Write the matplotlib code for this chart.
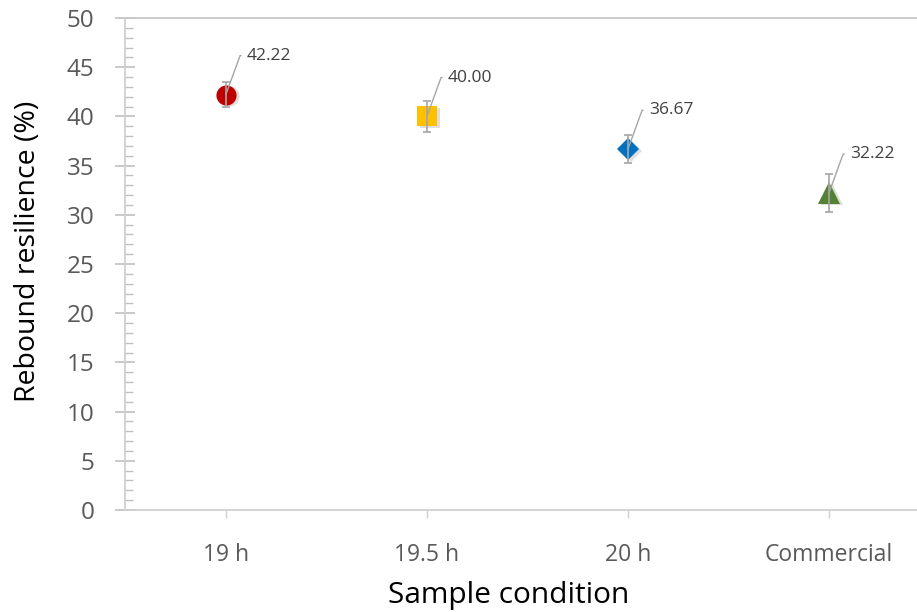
import matplotlib
matplotlib.use('Agg')
import matplotlib.pyplot as plt
import numpy as np

categories = ['19 h', '19.5 h', '20 h', 'Commercial']
values = [42.22, 40.00, 36.67, 32.22]
errors = [1.3, 1.6, 1.4, 1.9]
labels = ['42.22', '40.00', '36.67', '32.22']
colors = ['#C00000', '#FFC000', '#0070C0', '#548235']
markers = ['o', 's', 'D', '^']
sizes = [14.5, 15, 11.5, 16]

plt.rcParams['font.family'] = ['Open Sans', 'DejaVu Sans']

fig = plt.figure(figsize=(9.17, 6.12), dpi=100)
ax = fig.add_axes([125 / 917, 1 - 510 / 612, (917 - 125) / 917, (510 - 18) / 612])

x = np.arange(len(categories))
for i in range(len(categories)):
    # soft shadow to the lower right
    ax.plot(x[i] + 0.014, values[i] - 0.15, marker=markers[i], markersize=sizes[i],
            color='#000000', alpha=0.13, markeredgewidth=0, linestyle='none', zorder=2)
    ax.plot(x[i], values[i], marker=markers[i], markersize=sizes[i],
            color=colors[i], markeredgewidth=0, linestyle='none', zorder=3)
    ax.errorbar(x[i], values[i], yerr=errors[i], fmt='none', ecolor='#A6A6A6',
                elinewidth=1.2, capsize=3, capthick=1.2, zorder=4)
    ax.annotate(labels[i], xy=(x[i], values[i]), xytext=(15, 28),
                textcoords='offset points', fontsize=12.5, color='#404040',
                va='center', ha='left',
                arrowprops=dict(arrowstyle='-', color='#A6A6A6', lw=1,
                                shrinkA=2, shrinkB=0,
                                connectionstyle='angle,angleA=0,angleB=70,rad=0'),
                zorder=5)

ax.set_xlim(-0.502, 3.438)
ax.set_ylim(0, 50)
ax.set_xticks(x)
ax.set_xticklabels(categories)
ax.set_yticks(np.arange(0, 51, 5))
ax.set_yticks(np.arange(0, 51, 1), minor=True)

ax.spines['right'].set_visible(False)
for s in ['left', 'bottom', 'top']:
    ax.spines[s].set_color('#D0D0D0')
    ax.spines[s].set_linewidth(1.3)
ax.spines['top'].set_color('#C8C8C8')

ax.tick_params(axis='y', which='major', direction='inout', length=14, width=1.2,
               color='#C0C0C0', labelsize=17.5, labelcolor='#595959', pad=15)
ax.tick_params(axis='y', which='minor', direction='in', length=6, width=1,
               color='#C0C0C0')
ax.tick_params(axis='x', which='major', direction='out', length=6, width=1,
               color='#D0D0D0', labelsize=16.5, labelcolor='#595959', pad=18)

ax.set_xlabel('Sample condition', fontsize=21.5, color='black', labelpad=8)
ax.set_ylabel('Rebound resilience (%)', fontsize=20.5, color='black', labelpad=18)
ax.xaxis.set_label_coords(0.485, -0.145)
ax.yaxis.set_label_coords(-0.105, 0.525)

fig.savefig('out.png', dpi=100)
